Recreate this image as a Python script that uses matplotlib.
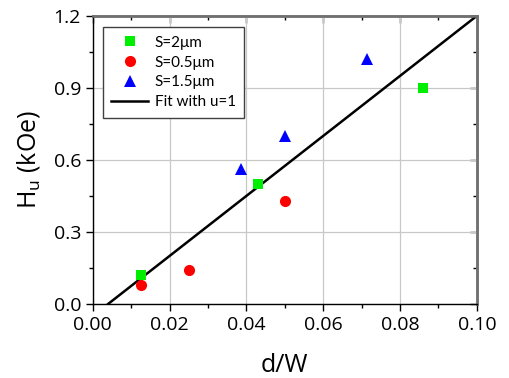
import matplotlib
matplotlib.use("Agg")
import matplotlib.pyplot as plt
from matplotlib.ticker import MultipleLocator, FormatStrFormatter, NullFormatter
from matplotlib import font_manager

plt.rcParams['font.family'] = ['Open Sans', 'DejaVu Sans']

names = {f.name for f in font_manager.fontManager.ttflist}
leg_font = 'Liberation Sans Narrow' if 'Liberation Sans Narrow' in names else 'Lato'
leg_size = 12.5 if leg_font == 'Liberation Sans Narrow' else 11

# data
s2_x = [0.0125, 0.043, 0.086]
s2_y = [0.12, 0.50, 0.90]
s05_x = [0.0125, 0.025, 0.050]
s05_y = [0.08, 0.14, 0.43]
s15_x = [0.0385, 0.050, 0.0715]
s15_y = [0.56, 0.70, 1.02]
fit_x = [0.004, 0.100]
fit_y = [0.0, 1.2]

fig = plt.figure(figsize=(5.10, 3.78), dpi=100)
ax = fig.add_axes([0.182, 0.196, 0.753, 0.762])

ax.grid(True, color='#c8c8c8', linewidth=0.9, zorder=0)
ax.plot(s2_x, s2_y, 's', color='#00ee00', markersize=7, label='S=2μm', zorder=3, markeredgewidth=0)
ax.plot(s05_x, s05_y, 'o', color='#ff0000', markersize=8, label='S=0.5μm', zorder=3, markeredgewidth=0)
ax.plot(s15_x, s15_y, '^', color='#0000ff', markersize=9, label='S=1.5μm', zorder=3, markeredgewidth=0)
ax.plot(fit_x, fit_y, '-', color='black', linewidth=1.8, label='Fit with u=1', zorder=2)

ax.set_xlim(0, 0.10)
ax.set_ylim(0, 1.2)
ax.xaxis.set_major_locator(MultipleLocator(0.02))
ax.xaxis.set_minor_locator(MultipleLocator(0.01))
ax.yaxis.set_major_locator(MultipleLocator(0.3))
ax.yaxis.set_minor_locator(MultipleLocator(0.15))
ax.xaxis.set_major_formatter(FormatStrFormatter('%.2f'))
ax.yaxis.set_major_formatter(FormatStrFormatter('%.1f'))

ax.tick_params(which='major', direction='out', length=5, width=1, labelsize=14)
ax.tick_params(which='minor', direction='out', length=3, width=1)

# inward ticks on top and right
top = ax.secondary_xaxis('top')
top.xaxis.set_major_locator(MultipleLocator(0.02))
top.xaxis.set_minor_locator(MultipleLocator(0.01))
top.xaxis.set_major_formatter(NullFormatter())
top.tick_params(which='major', direction='in', length=5, width=1)
top.tick_params(which='minor', direction='in', length=3, width=1)
right = ax.secondary_yaxis('right')
right.yaxis.set_major_locator(MultipleLocator(0.3))
right.yaxis.set_minor_locator(MultipleLocator(0.15))
right.yaxis.set_major_formatter(NullFormatter())
right.tick_params(which='major', direction='in', length=5, width=1)
right.tick_params(which='minor', direction='in', length=3, width=1)
for sa, side in ((top, 'top'), (right, 'right')):
    for s in sa.spines.values():
        s.set_visible(False)
    sa.spines[side].set_visible(True)
    sa.spines[side].set_color('#707070')
    sa.spines[side].set_linewidth(1.8)

for s in ['top', 'right']:
    ax.spines[s].set_color('#707070')
    ax.spines[s].set_linewidth(1.8)
for s in ['left', 'bottom']:
    ax.spines[s].set_color('black')
    ax.spines[s].set_linewidth(1.0)

ax.set_xlabel('d/W', fontsize=18, labelpad=14)
ax.set_ylabel('H$_\\mathregular{u}$ (kOe)', fontsize=18, labelpad=8)

leg = ax.legend(loc='upper left', frameon=True, fancybox=False,
                edgecolor='#404040', framealpha=1, handlelength=2.4, handletextpad=0.45,
                borderpad=0.55, labelspacing=0.38, borderaxespad=0,
                bbox_to_anchor=(0.026, 0.96), prop={'family': [leg_font, 'DejaVu Sans'], 'size': leg_size})
leg.get_frame().set_linewidth(1.0)

fig.savefig('out.png', dpi=100)
